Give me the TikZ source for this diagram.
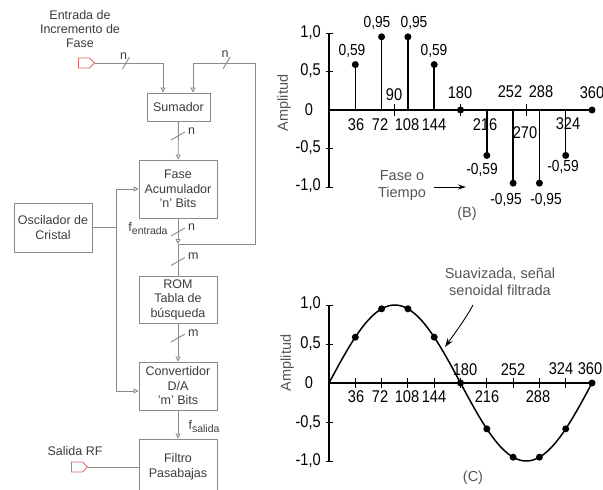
\documentclass[tikz,border=0pt]{standalone}
\usepackage{fontspec}
\setmainfont{Liberation Sans}
\newfontfamily\numfont[FakeStretch=0.86]{Liberation Sans}
\definecolor{wire}{HTML}{8A8A8A}
\definecolor{label}{HTML}{3C3C3C}
\definecolor{port}{HTML}{DE6A6A}
\definecolor{note}{HTML}{555555}
\usetikzlibrary{arrows.meta, positioning, calc, shapes.symbols}
\tikzset{
  block/.style={draw=wire, line width=0.9pt, align=center, text=label,
                font=\fontsize{12.5}{14.5}\selectfont, inner sep=0pt},
  bus/.style={draw=wire, line width=0.9pt},
  busarrow/.style={bus, -{Triangle[open,length=5pt,width=5pt]}},
  buslbl/.style={text=label, font=\fontsize{12.5}{14}\selectfont, inner sep=1pt, align=center},
  portbox/.style={signal, signal to=east, draw=port, line width=0.8pt,
                  minimum width=16pt, minimum height=10pt, inner sep=0pt},
  num/.style={font=\numfont\fontsize{17}{17}\selectfont, inner sep=0pt},
  val/.style={font=\numfont\fontsize{16}{16}\selectfont, inner sep=0pt},
  note/.style={text=note, font=\fontsize{14.5}{17}\selectfont, align=center, inner sep=0pt},
  stem/.style={line width=1.5pt},
  dot/.style={circle, fill, inner sep=0pt, minimum size=7pt},
  pointer/.style={-{Stealth[length=9pt,width=6pt]}, line width=0.9pt},
}
\newcommand{\sub}[1]{\raisebox{-3pt}{\fontsize{10.5}{10.5}\selectfont #1}}
\begin{document}
\begin{tikzpicture}[x=1pt, y=-1pt]
  \useasboundingbox (0,0) rectangle (603,490);
  % bloques
  \node[block, minimum width=63pt, minimum height=28pt] (sum) at (178.5,107) {Sumador};
  \node[block, minimum width=78pt, minimum height=58pt] (acc) at (178,189) {Fase\\Acumulador\\'n' Bits};
  \node[block, minimum width=78pt, minimum height=49pt] (osc) at (53,227.5) {Oscilador de\\Cristal};
  \node[block, minimum width=78pt, minimum height=47pt] (rom) at (178,299.5) {ROM\\Tabla de\\búsqueda};
  \node[block, minimum width=78pt, minimum height=48pt] (dac) at (178,386) {Convertidor\\D/A\\'m' Bits};
  \node[block, minimum width=78pt, minimum height=56pt] (lpf) at (178,467) {Filtro\\Pasabajas};
  \node[portbox] (inport) at (84,63) {};
  \node[portbox] (outport) at (77,467) {};
  \node[buslbl] (intext) at (80,29) {Entrada de\\Incremento de\\Fase};
  \node[buslbl] (outtext) at (75,451) {Salida RF};
  \coordinate (tap) at (178,244);
  \coordinate (ret) at (255,63);
  \coordinate (ck1) at (116,189);
  \coordinate (ck2) at (116,391);
  \draw[busarrow] (inport.east) -| ([xshift=-15.5pt]sum.north);
  \draw[busarrow] (tap) -- (tap -| ret) -- (ret) -| ([xshift=14.5pt]sum.north);
  \draw[busarrow] (sum) -- (acc);
  \draw[busarrow] (acc) -- (tap);
  \draw[bus] (tap) -- (rom);
  \draw[busarrow] (rom) -- (dac);
  \draw[busarrow] (dac) -- (lpf);
  \draw[bus] (lpf.west |- outport) -- (outport.east);
  \draw[bus] (osc.east) -- (osc.east -| ck1);
  \draw[bus] (ck1) -- (ck2);
  \draw[busarrow] (ck1) -- (acc.west |- ck1);
  \draw[busarrow] (ck2) -- (dac.west |- ck2);
  \foreach \x/\lx/\ly [count=\i] in {126/123.5/56, 226.5/225/54}
  {
    \draw[bus] (\x-3.5,69) -- (\x+3.5,57);
    \node[buslbl] (hw\i) at (\lx,\ly) {n};
  }
  \foreach \y/\t [count=\i] in {136/n, 232/n, 261.5/m, 338/m}
  {
    \draw[bus] (171,\y+4) -- (185,\y-4);
    \node[buslbl, anchor=west] (vw\i) at (187,\y-5) {\t};
  }
  \node[buslbl] (fin) at (148,229) {f\sub{entrada}};
  \node[buslbl] (fout) at (204,427) {f\sub{salida}};
  % (B) muestras
  \begin{scope}[shift={(329,110)}, x=0.7306pt, y=77pt]
    \draw[stem] (0,1) -- (0,-1);
    \draw[stem] (0,0) -- (360,0);
    \foreach \v in {1,0.5,-0.5,-1} \draw[line width=1pt] (-4,\v) -- (6,\v);
    \foreach \a in {90,180,270} \draw[line width=1pt] (\a,0.08) -- (\a,-0.08);
    \foreach \a/\v in {36/0.59,72/0.95,108/0.95,144/0.59,216/-0.59,252/-0.95,288/-0.95,324/-0.59}
    {
      \draw[stem] (\a,0) -- (\a,\v);
      \node[dot] (bs\a) at (\a,\v) {};
    }
    \node[dot] (bs180) at (180,0) {};
    \node[dot] (bs360) at (360,0) {};
  \end{scope}
  \foreach \y/\t [count=\i] in {33/{1,0}, 71/{0,5}, 148/{-0,5}, 186/{-1,0}}
    \node[num, anchor=east] (by\i) at (321,\y) {\t};
  \node[num] (by0) at (309,110) {0};
  \foreach \x/\y/\t [count=\i] in {356/125/36, 380/125/72, 407/125/108, 434/125/144, 485/125/216,
      525/133/270, 568/124/324, 394/95/90, 460/93/180, 510/92/252, 541/92/288, 592/93/360}
    \node[num] (bx\i) at (\x,\y) {\t};
  \foreach \x/\y/\t [count=\i] in {352/51/{0,59}, 377/23/{0,95}, 414/23/{0,95}, 434/51/{0,59},
      482/170/{-0,59}, 506/200/{-0,95}, 546/200/{-0,95}, 563/167/{-0,59}}
    \node[val] (bv\i) at (\x,\y) {\t};
  \node[note, rotate=90] (bamp) at (284,103) {Amplitud};
  \node[note] (btime) at (402,186) {Fase o\\Tiempo};
  \coordinate (btip) at (466,187);
  \draw[pointer, note, -{Stealth[length=8pt,width=5pt]}] (btime.east |- btip) ++(8pt,0) -- (btip);
  \node[note] (bcap) at (467,214) {(B)};
  % (C) senal filtrada
  \begin{scope}[shift={(329,383)}, x=0.7306pt, y=78pt]
    \draw[stem] (0,1) -- (0,-1);
    \draw[stem] (0,0) -- (360,0);
    \foreach \v in {1,0.5,-0.5,-1} \draw[line width=1pt] (-4,\v) -- (6,\v);
    \foreach \a in {36,72,...,324} \draw[line width=1pt] (\a,0.07) -- (\a,-0.07);
    \draw[stem, domain=0:360, samples=91, smooth] plot (\x, {sin(\x)});
    \foreach \a in {36,72,...,360} \node[dot] (cs\a) at (\a,{sin(\a)}) {};
  \end{scope}
  \foreach \y/\t [count=\i] in {304/{1,0}, 344/{0,5}, 423/{-0,5}, 461/{-1,0}}
    \node[num, anchor=east] (cy\i) at (321,\y) {\t};
  \node[num] (cy0) at (309,383) {0};
  \foreach \x/\y/\t [count=\i] in {356/397/36, 380/397/72, 407/397/108, 434/397/144, 487/397/216,
      538/397/288, 465/370/180, 513/370/252, 561/369/324, 590/369/360}
    \node[num] (cx\i) at (\x,\y) {\t};
  \node[note, rotate=90] (camp) at (287,363) {Amplitud};
  \node[note] (csmooth) at (500,282) {Suavizada, señal\\senoidal filtrada};
  \coordinate (ctail) at (473,305);
  \coordinate (ctip) at (445,347);
  \draw[pointer] (ctail) .. controls (466,318) and (455,333) .. (ctip);
  \node[note] (ccap) at (473,478) {(C)};
\end{tikzpicture}
\end{document}
